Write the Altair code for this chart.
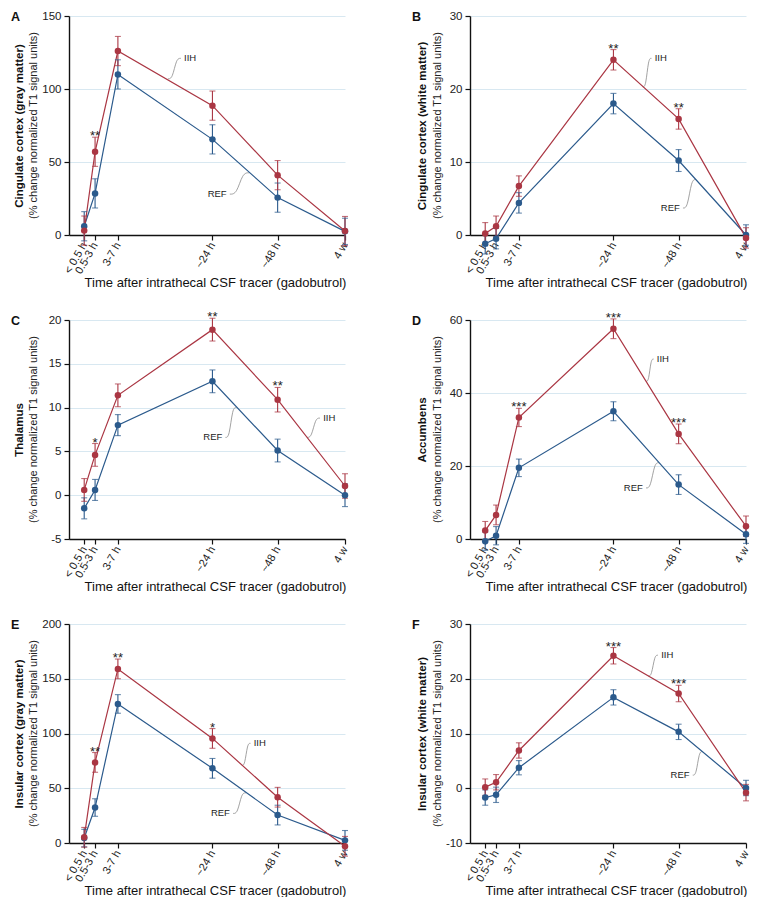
import altair as alt
import pandas as pd

# ---------------- shared axis content ----------------
X_POS = [0, 1, 3.1, 11.8, 17.8, 24]
X_LABELS = ["< 0.5 h", "0.5-3 h", "3-7 h", "~24 h", "~48 h", "4 w"]
X_TITLE = "Time after intrathecal CSF tracer (gadobutrol)"
Y_SUB = "(% change normalized T1 signal units)"

# ---------------- panel A ----------------
A_TITLE = "Cingulate cortex (gray matter)"
A_IIH = [3, 57, 126, 88.6, 41, 2.7]
A_IIH_ERR = [10, 10, 10, 10, 10, 10]
A_REF = [6, 28.5, 110, 65.5, 25.6, 2.5]
A_REF_ERR = [10, 10, 10, 10, 10, 9]
A_YDOM = [0, 150]
A_YTICKS = [0, 50, 100, 150]
A_STARS_X = [1]
A_STARS = ["**"]
A_IIH_LAB = [9.1, 121, 8.9, 121, 7.7, 107]
A_REF_LAB = [13.2, 28, 13.4, 28, 15.2, 42.6]

# ---------------- panel B ----------------
B_TITLE = "Cingulate cortex (white matter)"
B_IIH = [0.2, 1.2, 6.7, 24.0, 15.9, -0.4]
B_IIH_ERR = [1.5, 1.4, 1.4, 1.4, 1.4, 1.4]
B_REF = [-1.2, -0.5, 4.4, 18.0, 10.2, 0.0]
B_REF_ERR = [1.4, 1.4, 1.4, 1.4, 1.5, 1.4]
B_YDOM = [0, 30]
B_YTICKS = [0, 10, 20, 30]
B_STARS_X = [11.8, 17.8]
B_STARS = ["**", "**"]
B_IIH_LAB = [15.5, 24.2, 15.3, 24.2, 14.5, 20.3]
B_REF_LAB = [18.0, 3.7, 18.2, 3.7, 19.4, 7.6]

# ---------------- panel C ----------------
C_TITLE = "Thalamus"
C_IIH = [0.6, 4.6, 11.4, 18.9, 10.9, 1.05]
C_IIH_ERR = [1.3, 1.3, 1.3, 1.3, 1.4, 1.4]
C_REF = [-1.5, 0.6, 8.0, 13.0, 5.1, 0.0]
C_REF_ERR = [1.2, 1.2, 1.2, 1.3, 1.3, 1.3]
C_YDOM = [-5, 20]
C_YTICKS = [-5, 0, 5, 10, 15, 20]
C_STARS_X = [1, 11.8, 17.8]
C_STARS = ["*", "**", "**"]
C_IIH_LAB = [21.9, 8.8, 21.7, 8.8, 20.5, 6.6]
C_REF_LAB = [12.8, 6.6, 13.0, 6.6, 14.0, 10.0]

# ---------------- panel D ----------------
D_TITLE = "Accumbens"
D_IIH = [2.3, 6.6, 33.3, 57.6, 28.8, 3.5]
D_IIH_ERR = [2.5, 2.7, 2.5, 2.7, 2.7, 2.8]
D_REF = [-0.6, 0.9, 19.5, 35.0, 14.9, 1.3]
D_REF_ERR = [2.5, 2.5, 2.4, 2.6, 2.7, 2.5]
D_YDOM = [0, 60]
D_YTICKS = [0, 20, 40, 60]
D_STARS_X = [3.1, 11.8, 17.8]
D_STARS = ["***", "***", "***"]
D_IIH_LAB = [15.7, 49.3, 15.5, 49.3, 14.8, 43.2]
D_REF_LAB = [14.6, 14, 14.8, 14, 16.0, 20.9]

# ---------------- panel E ----------------
E_TITLE = "Insular cortex (gray matter)"
E_IIH = [5.2, 73.6, 159, 95.5, 41.8, -3]
E_IIH_ERR = [9, 9, 9, 9, 9, 9]
E_REF = [4.5, 32.4, 127, 68.2, 25.5, 2.4]
E_REF_ERR = [8, 8, 8.5, 9, 9, 9]
E_YDOM = [0, 200]
E_YTICKS = [0, 50, 100, 150, 200]
E_STARS_X = [1, 3.1, 11.8]
E_STARS = ["**", "**", "*"]
E_IIH_LAB = [15.5, 91, 15.3, 91, 14.5, 70.9]
E_REF_LAB = [13.5, 27, 13.7, 27, 14.9, 45.8]

# ---------------- panel F ----------------
F_TITLE = "Insular cortex (white matter)"
F_IIH = [0.2, 1.1, 6.9, 24.2, 17.3, -0.8]
F_IIH_ERR = [1.5, 1.4, 1.4, 1.5, 1.5, 1.5]
F_REF = [-1.7, -1.2, 3.75, 16.6, 10.3, 0.05]
F_REF_ERR = [1.4, 1.4, 1.3, 1.4, 1.4, 1.4]
F_YDOM = [-10, 30]
F_YTICKS = [-10, 0, 10, 20, 30]
F_STARS_X = [11.8, 17.8]
F_STARS = ["***", "***"]
F_IIH_LAB = [16.1, 24.3, 15.9, 24.3, 15.0, 20.5]
F_REF_LAB = [18.9, 2.4, 19.1, 2.4, 20.0, 6.7]

RED = "#aa3643"
BLUE = "#2b5a8c"
GRID = "#d8e8f1"
FONT = "Liberation Sans"
W, H = 276, 219
X_DOM = [-1.4, 24]


def make_panel(letter, title, iih, iih_err, ref, ref_err, ydom, yticks,
               stars_x, stars, iih_lab, ref_lab, left_col):
    rows = []
    for grp, m, e in (("REF", ref, ref_err), ("IIH", iih, iih_err)):
        for xp, mv, ev in zip(X_POS, m, e):
            rows.append({"x": xp, "g": grp, "m": mv, "lo": mv - ev, "hi": mv + ev})
    df = pd.DataFrame(rows)

    label_expr = " : ".join(f"datum.value == {p} ? '{l}'" for p, l in zip(X_POS, X_LABELS)) + " : ''"
    xaxis = alt.Axis(values=X_POS, labelExpr=label_expr, labelAngle=300, labelAlign="right",
                     labelBaseline="middle", labelPadding=3, labelOverlap=False, labelFlush=False,
                     grid=False, title=X_TITLE, titleX=W / 2 + 8, titleY=47, titleFontWeight="normal",
                     titleFontSize=13, titleBaseline="middle", titleAlign="center",
                     tickSize=5, labelFontSize=11)
    tx, sx = (-50, -35) if left_col else (-48, -32)
    yaxis = alt.Axis(values=yticks, grid=True, gridColor=GRID, gridWidth=1, title=title,
                     titleX=tx, titleY=H / 2, titleAngle=270, titleAlign="center",
                     titleBaseline="middle", titleFontWeight="bold", titleFontSize=11.5,
                     tickSize=5, labelPadding=3, labelFontSize=11.5,
                     labelExpr="replace(datum.label, '\u2212', '-')")
    xs = alt.Scale(domain=X_DOM, nice=False, zero=False)
    ys = alt.Scale(domain=ydom, nice=False, zero=False)
    color = alt.Color("g:N", scale=alt.Scale(domain=["IIH", "REF"], range=[RED, BLUE]), legend=None)

    X = alt.X("x:Q", scale=xs, axis=xaxis)
    base = alt.Chart(df)
    lines = base.mark_line(strokeWidth=1.2).encode(x=X, y=alt.Y("m:Q", scale=ys, axis=yaxis),
                                                    color=color, detail="g:N")
    bars = base.mark_rule(strokeWidth=1.1).encode(x=X, y=alt.Y("lo:Q", scale=ys, axis=yaxis),
                                                  y2="hi:Q", color=color)
    cap_lo = base.mark_tick(orient="horizontal", size=6, thickness=1.1).encode(
        x=X, y=alt.Y("lo:Q", scale=ys, axis=yaxis), color=color)
    cap_hi = base.mark_tick(orient="horizontal", size=6, thickness=1.1).encode(
        x=X, y=alt.Y("hi:Q", scale=ys, axis=yaxis), color=color)
    pts = base.mark_circle(size=42, opacity=1).encode(
        x=X, y=alt.Y("m:Q", scale=ys, axis=yaxis), color=color)

    # significance stars above IIH error bars
    iih_top = {p: m + e for p, m, e in zip(X_POS, iih, iih_err)}
    sdf = pd.DataFrame({"x": stars_x, "y": [iih_top[p] for p in stars_x], "s": stars})
    star_layer = alt.Chart(sdf).mark_text(font=FONT, fontSize=13, baseline="alphabetic",
                                          dy=3, color="#222").encode(
        x=X, y=alt.Y("y:Q", scale=ys, axis=yaxis), text="s:N")

    # series labels with leader lines
    lab_rows, lead_rows = [], []
    for name, lab, align in (("IIH", iih_lab, "left"), ("REF", ref_lab, "right")):
        tx_, ty_, sx_, sy_, ex_, ey_ = lab
        lab_rows.append({"x": tx_, "y": ty_, "t": name, "a": align})
        pts4 = [(sx_, sy_), (sx_ + 0.35 * (ex_ - sx_), sy_),
                (sx_ + 0.65 * (ex_ - sx_), ey_), (ex_, ey_)]
        for i, (px, py) in enumerate(pts4):
            lead_rows.append({"x": px, "y": py, "id": name, "i": i})
    ldf = pd.DataFrame(lab_rows)
    leaders = alt.Chart(pd.DataFrame(lead_rows)).mark_line(
        interpolate="basis", color="#8a8a8a", strokeWidth=0.8).encode(
        x=X, y=alt.Y("y:Q", scale=ys, axis=yaxis), detail="id:N", order="i:Q")
    lab_l = alt.Chart(ldf[ldf.a == "left"]).mark_text(
        font=FONT, fontSize=9.5, align="left", baseline="middle", dx=1, color="#222").encode(
        x=X, y=alt.Y("y:Q", scale=ys, axis=yaxis), text="t:N")
    lab_r = alt.Chart(ldf[ldf.a == "right"]).mark_text(
        font=FONT, fontSize=9.5, align="right", baseline="middle", dx=-1, color="#222").encode(
        x=X, y=alt.Y("y:Q", scale=ys, axis=yaxis), text="t:N")

    letter_layer = alt.Chart(pd.DataFrame({"t": [letter]})).mark_text(
        font=FONT, fontSize=12.5, fontWeight="bold", align="left", baseline="top", color="#111").encode(
        text="t:N", x=alt.value(-58), y=alt.value(-5))
    sub_layer = alt.Chart(pd.DataFrame({"t": [Y_SUB]})).mark_text(
        font=FONT, fontSize=11, angle=270, align="center", baseline="middle", color="#222").encode(
        text="t:N", x=alt.value(sx), y=alt.value(H / 2))

    return alt.layer(leaders, lines, bars, cap_lo, cap_hi, pts, star_layer, lab_l, lab_r,
                     letter_layer, sub_layer).properties(width=W, height=H)


panels = [
    make_panel("A", A_TITLE, A_IIH, A_IIH_ERR, A_REF, A_REF_ERR, A_YDOM, A_YTICKS,
               A_STARS_X, A_STARS, A_IIH_LAB, A_REF_LAB, True),
    make_panel("B", B_TITLE, B_IIH, B_IIH_ERR, B_REF, B_REF_ERR, B_YDOM, B_YTICKS,
               B_STARS_X, B_STARS, B_IIH_LAB, B_REF_LAB, False),
    make_panel("C", C_TITLE, C_IIH, C_IIH_ERR, C_REF, C_REF_ERR, C_YDOM, C_YTICKS,
               C_STARS_X, C_STARS, C_IIH_LAB, C_REF_LAB, True),
    make_panel("D", D_TITLE, D_IIH, D_IIH_ERR, D_REF, D_REF_ERR, D_YDOM, D_YTICKS,
               D_STARS_X, D_STARS, D_IIH_LAB, D_REF_LAB, False),
    make_panel("E", E_TITLE, E_IIH, E_IIH_ERR, E_REF, E_REF_ERR, E_YDOM, E_YTICKS,
               E_STARS_X, E_STARS, E_IIH_LAB, E_REF_LAB, True),
    make_panel("F", F_TITLE, F_IIH, F_IIH_ERR, F_REF, F_REF_ERR, F_YDOM, F_YTICKS,
               F_STARS_X, F_STARS, F_IIH_LAB, F_REF_LAB, False),
]

chart = alt.concat(*panels, columns=2, spacing={"row": 85, "column": 125}, bounds="flush").properties(
    padding={"left": 3, "top": 2, "right": 0, "bottom": 0}
).configure(font=FONT).configure_view(stroke=None).configure_axis(
    domainColor="#111", domainWidth=1.4, tickColor="#111", tickWidth=1.2,
    labelColor="#222", titleColor="#111", labelFont=FONT, titleFont=FONT
)

chart.save("out.html", embed_options={"renderer": "svg", "actions": False})
